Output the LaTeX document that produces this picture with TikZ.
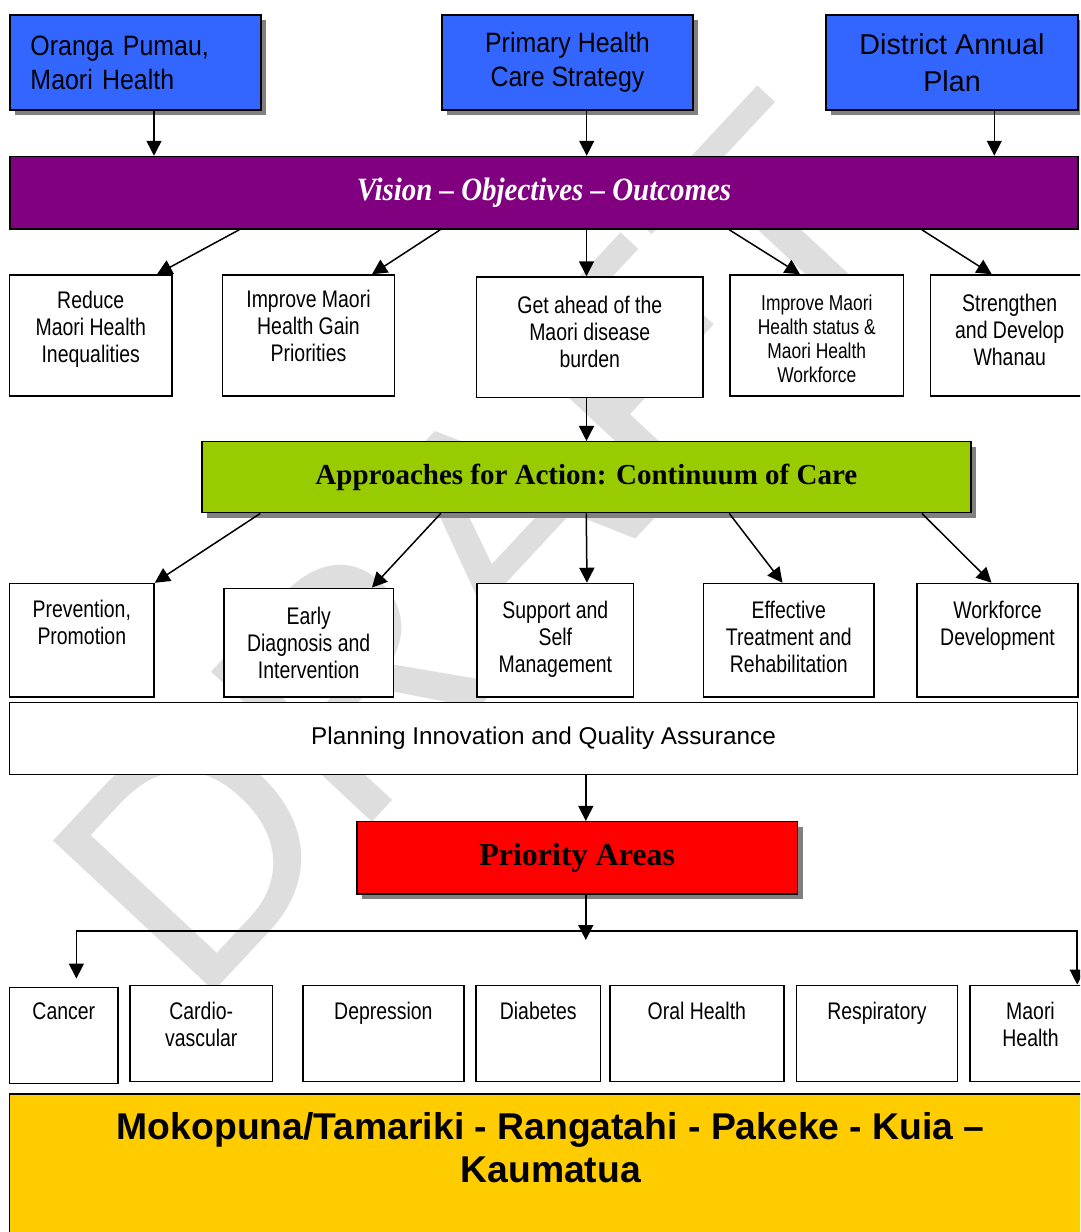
\documentclass[tikz,border=0pt]{standalone}
\usepackage{fontspec}
\setmainfont{Liberation Sans}
\newfontfamily\narrowsf[FakeStretch=0.81]{Liberation Sans}
\newfontfamily\topsf[FakeStretch=0.89]{Liberation Sans}
\newfontfamily\timesf{Liberation Serif}
\newfontfamily\visionf[FakeStretch=0.89]{Liberation Serif}
\usetikzlibrary{arrows.meta,shadows}
\definecolor{planblue}{RGB}{51,102,255}
\definecolor{visionpurple}{RGB}{128,0,128}
\definecolor{caregreen}{RGB}{153,204,0}
\definecolor{priorityred}{RGB}{255,0,0}
\definecolor{ageyellow}{RGB}{255,204,0}
\definecolor{shadowgray}{RGB}{128,128,128}
\definecolor{draftgray}{RGB}{222,222,222}

\begin{document}
\begin{tikzpicture}[x=1pt,y=-1pt]
  \tikzset{topbox/.style={draw,line width=1.5pt,fill=planblue,minimum width=251,minimum height=95,inner sep=0pt,drop shadow={shadow xshift=5pt,shadow yshift=-5pt,fill=shadowgray,opacity=1}}}
  \tikzset{bar/.style={draw,line width=1.5pt,inner sep=0pt}}
  \tikzset{cell/.style={draw,line width=1.5pt,fill=white,inner sep=0pt}}
  \tikzset{celltext/.style={anchor=north,inner sep=0pt,align=center,font=\narrowsf\fontsize{24}{27}\selectfont}}
  \tikzset{arrow/.style={draw,line width=1.5pt,-{Triangle[length=15pt,width=15pt]}}}
  \tikzset{twoway/.style={draw,line width=1.5pt,{Triangle[length=15pt,width=15pt]}-{Triangle[length=15pt,width=15pt]}}}

  \useasboundingbox (0,0) rectangle (1080,1232);
  \clip (0,0) rectangle (1080,1232);

  % watermark
  \node[rotate=47,text=draftgray,inner sep=0pt,font=\fontsize{320}{320}\selectfont] (draft) at (480,545) {DRAFT};

  % strategies
  \node[topbox,text width=210,align=left,font=\topsf\fontsize{28}{34}\selectfont] (oranga) at (135.5,62.5) {Oranga Pumau,\\Maori Health};
  \node[topbox,align=center,font=\topsf\fontsize{28}{34}\selectfont] (primary) at (567.5,62.5) {Primary Health\\Care Strategy};
  \node[topbox,minimum width=252,align=center,font=\fontsize{28.7}{36.5}\selectfont] (district) at (952,62.5) {District Annual\\Plan};

  \node[bar,fill=visionpurple,minimum width=1068,minimum height=72.5,text=white,font=\visionf\bfseries\itshape\fontsize{32.5}{36}\selectfont] (vision) at (544,192.75) {Vision – Objectives – Outcomes};

  \draw[arrow] ([xshift=18.5]oranga.south) -- ([xshift=18.5]oranga.south |- vision.north);
  \draw[arrow] ([xshift=19.2]primary.south) -- ([xshift=19.2]primary.south |- vision.north);
  \draw[arrow] ([xshift=42.3]district.south) -- ([xshift=42.3]district.south |- vision.north);

  % objectives
  \node[cell,minimum width=162.5,minimum height=121] (reduce) at (90.75,335.5) {};
  \node[cell,minimum width=171.6,minimum height=121] (gain) at (308.5,335.5) {};
  \node[cell,minimum width=226.4,minimum height=120.5] (burden) at (589.8,337.25) {};
  \node[cell,minimum width=173.6,minimum height=121] (status) at (816.8,335.5) {};
  \node[cell,minimum width=158.5,minimum height=121] (whanau) at (1009.75,335.5) {};

  \node[celltext] (reducetxt) at ([yshift=-16.5]reduce.north) {Reduce\\Maori Health\\Inequalities};
  \node[celltext] (gaintxt) at ([yshift=-15.5]gain.north) {Improve Maori\\Health Gain\\Priorities};
  \node[celltext] (burdentxt) at ([yshift=-19.5]burden.north) {Get ahead of the\\Maori disease\\burden};
  \node[celltext,font=\narrowsf\fontsize{21.5}{24}\selectfont] (statustxt) at ([yshift=-20]status.north) {Improve Maori\\Health status \&\\Maori Health\\Workforce};
  \node[celltext] (whanautxt) at ([yshift=-20]whanau.north) {Strengthen\\and Develop\\Whanau};

  \draw[arrow] ([xshift=230]vision.south west) -- ([xshift=66.25]reduce.north);
  \draw[arrow] ([xshift=431]vision.south west) -- ([xshift=63.5]gain.north);
  \draw[arrow] ([xshift=-3.3]burden.north |- vision.south) -- ([xshift=-3.3]burden.north);
  \draw[arrow] ([xshift=720]vision.south west) -- ([xshift=-16.8]status.north);
  \draw[arrow] ([xshift=912.6]vision.south west) -- ([xshift=-18]whanau.north);

  % continuum of care
  \node[bar,fill=caregreen,minimum width=768.8,minimum height=71,drop shadow={shadow xshift=5pt,shadow yshift=-5pt,fill=shadowgray,opacity=1},font=\timesf\bfseries\fontsize{29}{33}\selectfont] (approaches) at (586.4,477.2) {Approaches for Action: Continuum of Care};

  \draw[arrow] ([xshift=-3.3]burden.south) -- ([xshift=-3.3]burden.south |- approaches.north);

  \node[cell,minimum width=144.4,minimum height=113.5] (prevention) at (81.8,640.25) {};
  \node[cell,minimum width=169.8,minimum height=108.7] (early) at (308.7,642.65) {};
  \node[cell,minimum width=156.7,minimum height=113.5] (support) at (555.35,640.25) {};
  \node[cell,minimum width=170.4,minimum height=113.5] (effective) at (788.8,640.25) {};
  \node[cell,minimum width=161,minimum height=113.5] (workforce) at (997.5,640.25) {};

  \node[celltext] (preventiontxt) at ([yshift=-17.5]prevention.north) {Prevention,\\Promotion};
  \node[celltext] (earlytxt) at ([yshift=-19.5]early.north) {Early\\Diagnosis and\\Intervention};
  \node[celltext] (supporttxt) at ([yshift=-18]support.north) {Support and\\Self\\Management};
  \node[celltext] (effectivetxt) at ([yshift=-18]effective.north) {Effective\\Treatment and\\Rehabilitation};
  \node[celltext] (workforcetxt) at ([yshift=-18]workforce.north) {Workforce\\Development};

  \draw[arrow] ([xshift=59]approaches.south west) -- (prevention.north east);
  \draw[arrow] ([xshift=239.5]approaches.south west) -- ([xshift=63.3]early.north);
  \draw[arrow] ([xshift=385]approaches.south west) -- ([xshift=31.65]support.north);
  \draw[arrow] ([xshift=528]approaches.south west) -- ([xshift=-6.3]effective.north);
  \draw[arrow] ([xshift=720.7]approaches.south west) -- ([xshift=-6]workforce.north);

  \node[cell,minimum width=1068,minimum height=71.8,font=\fontsize{24.3}{28}\selectfont] (planning) at (543.5,738.6) {Planning Innovation and Quality Assurance};

  % priority areas
  \node[bar,fill=priorityred,minimum width=440.8,minimum height=72.3,drop shadow={shadow xshift=5pt,shadow yshift=-5pt,fill=shadowgray,opacity=1},font=\timesf\bfseries\fontsize{32}{36}\selectfont] (priority) at (577.2,857.85) {Priority Areas};

  \draw[arrow] ([xshift=42.3]planning.south) -- ([xshift=8.6]priority.north);

  \node[cell,minimum width=108.4,minimum height=96] (cancer) at (63.8,1035.3) {};
  \node[cell,minimum width=142.9,minimum height=96.4] (cardio) at (201.25,1033.5) {};
  \node[cell,minimum width=160.8,minimum height=96.4] (depression) at (383.4,1033.5) {};
  \node[cell,minimum width=124.1,minimum height=96.4] (diabetes) at (538.25,1033.5) {};
  \node[cell,minimum width=173.9,minimum height=96.4] (oral) at (696.85,1033.5) {};
  \node[cell,minimum width=160.9,minimum height=96.4] (respiratory) at (876.95,1033.5) {};
  \node[cell,minimum width=121,minimum height=96.4] (maori) at (1030.5,1033.5) {};

  \node[celltext] (cancertxt) at ([yshift=-16]cancer.north) {Cancer};
  \node[celltext] (cardiotxt) at ([yshift=-17.5]cardio.north) {Cardio-\\vascular};
  \node[celltext] (depressiontxt) at ([yshift=-17.5]depression.north) {Depression};
  \node[celltext] (diabetestxt) at ([yshift=-17.5]diabetes.north) {Diabetes};
  \node[celltext] (oraltxt) at ([yshift=-17.5]oral.north) {Oral Health};
  \node[celltext] (respiratorytxt) at ([yshift=-17.5]respiratory.north) {Respiratory};
  \node[celltext] (maoritxt) at ([yshift=-17.5]maori.north) {Maori\\Health};

  \coordinate (busL) at (76.4,931);
  \coordinate (busR) at (1077.2,931);
  \coordinate (busmid) at (585.8,940);
  \draw[arrow] ([xshift=8.6]priority.south) -- (busmid);
  \draw[twoway] ([yshift=8]busL |- cancer.north) -- (busL) -- (busR) -- (busR |- maori.north);

  % age groups
  \node[cell,fill=ageyellow,minimum width=1082.4,minimum height=151] (ages) at (550.8,1169.5) {};
  \node[anchor=north,inner sep=0pt,align=center,font=\bfseries\fontsize{37.3}{43.3}\selectfont] (agestxt) at ([yshift=-19]ages.north) {Mokopuna/Tamariki - Rangatahi - Pakeke - Kuia –\\Kaumatua};
\end{tikzpicture}
\end{document}
